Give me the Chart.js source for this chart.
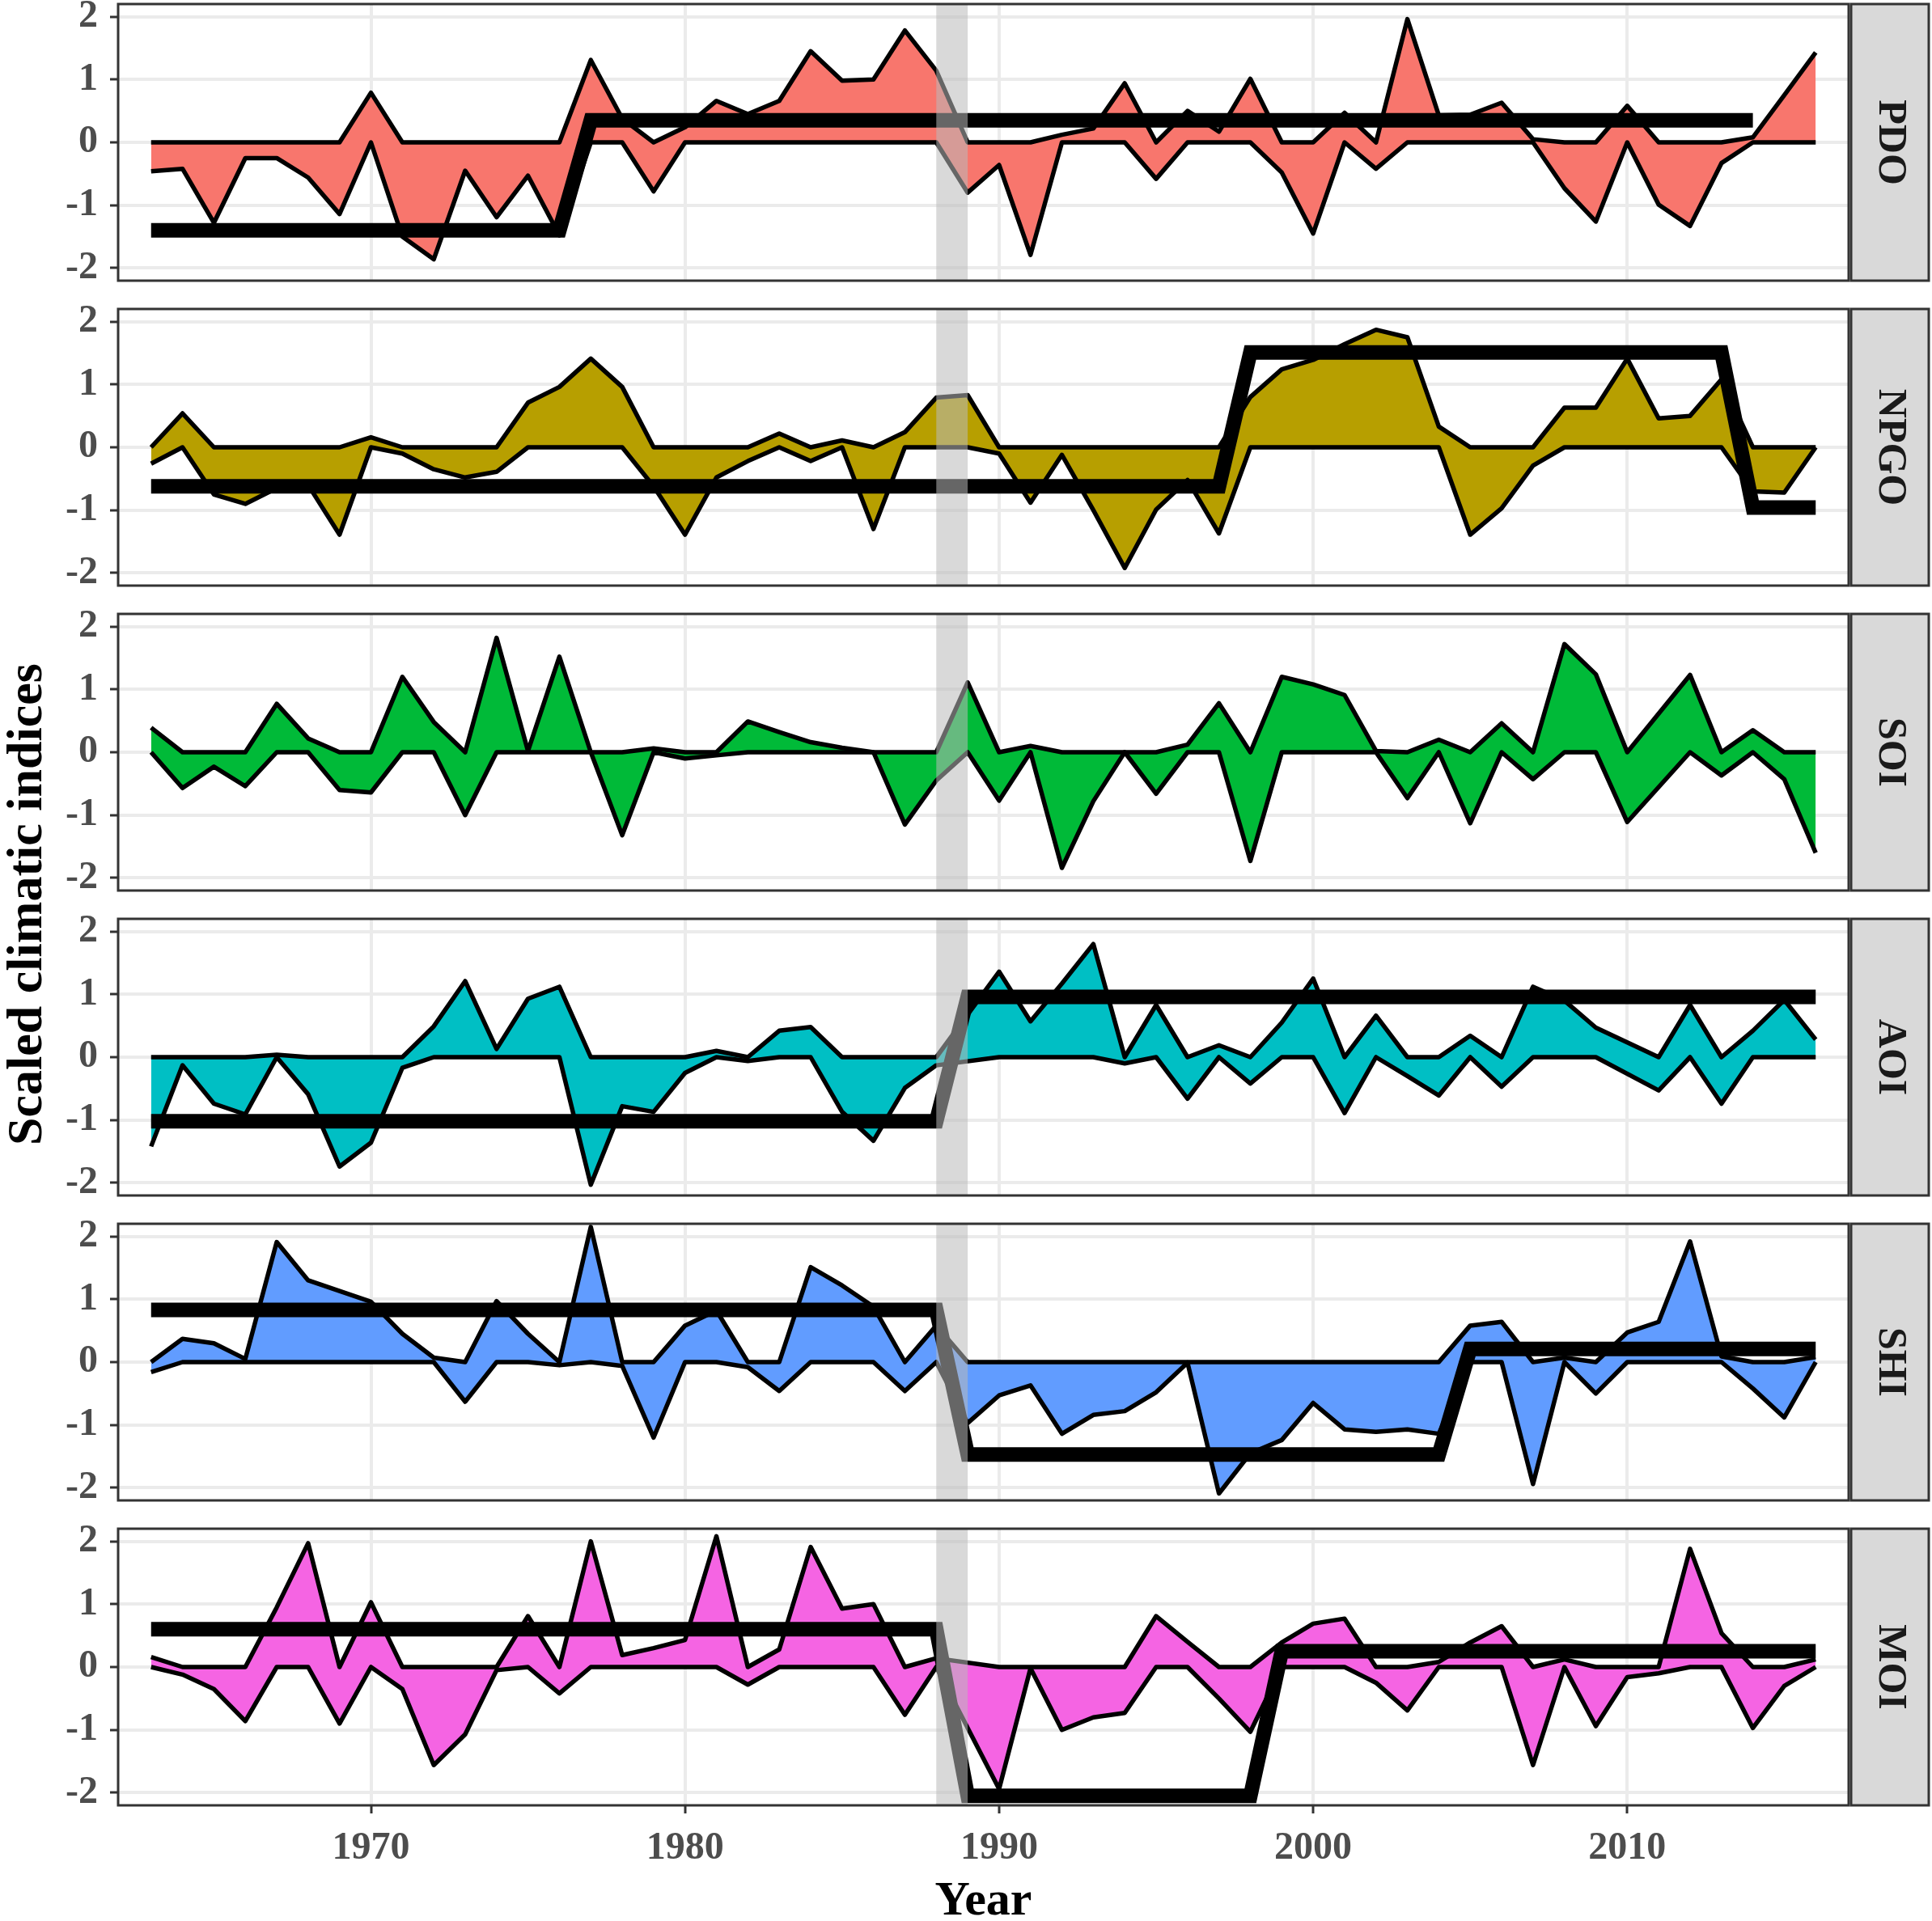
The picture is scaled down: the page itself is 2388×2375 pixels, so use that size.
<!DOCTYPE html>
<html>
<head>
<meta charset="utf-8">
<title>Scaled climatic indices</title>
<script src="https://cdn.jsdelivr.net/npm/chart.js@4.4.1/dist/chart.umd.min.js"></script>
<style>
  html, body { margin: 0; padding: 0; background: #fff; overflow: hidden; }
  #wrap { position: relative; width: 2388px; height: 2375px; }
  #wrap canvas { position: absolute; left: 0; }
  #yTitle {
    position: absolute; left: 30px; top: 1118px;
    transform: translate(-50%, -50%) rotate(-90deg);
    font: bold 62px "Liberation Serif", serif; color: #000; white-space: nowrap;
  }
</style>
</head>
<body>
<div id="wrap">
  <div id="yTitle">Scaled climatic indices</div>
</div>
<script>
// Years on the x axis
const years = [
  1963, 1964, 1965, 1966, 1967, 1968, 1969, 1970, 1971, 1972,
  1973, 1974, 1975, 1976, 1977, 1978, 1979, 1980, 1981, 1982,
  1983, 1984, 1985, 1986, 1987, 1988, 1989, 1990, 1991, 1992,
  1993, 1994, 1995, 1996, 1997, 1998, 1999, 2000, 2001, 2002,
  2003, 2004, 2005, 2006, 2007, 2008, 2009, 2010, 2011, 2012,
  2013, 2014, 2015, 2016
];

// Scaled index values (null = no point)
const pdo = [
  -0.46, -0.42, -1.28, -0.25, -0.25, -0.56, -1.14, 0.79, -1.50, -1.86,
  -0.45, -1.19, -0.53, -1.48, 1.31, 0.38, -0.78, 0.24, 0.66, 0.45,
  0.66, 1.45, 0.98, 1.00, 1.78, 1.14, -0.80, -0.36, -1.79, 0.12,
  0.22, 0.94, -0.58, 0.50, 0.17, 1.01, -0.48, -1.45, 0.47, -0.42,
  1.96, 0.43, 0.44, 0.63, 0.05, -0.73, -1.26, 0.58, -0.99, -1.33,
  -0.33, 0.08, 0.75, 1.43
];
const npgo = [
  -0.26, 0.54, -0.75, -0.90, -0.65, -0.60, -1.39, 0.16, -0.10, -0.35,
  -0.48, -0.39, 0.71, 0.96, 1.41, 0.96, -0.62, -1.39, -0.48, -0.22,
  0.22, -0.22, 0.11, -1.30, 0.24, 0.79, 0.83, -0.10, -0.88, -0.12,
  -1.00, -1.92, -0.99, -0.52, -1.37, 0.80, 1.24, 1.39, 1.64, 1.87,
  1.75, 0.33, -1.39, -0.97, -0.29, 0.63, 0.63, 1.41, 0.46, 0.50,
  1.08, -0.70, -0.72, 0.00
];
const soi = [
  0.39, -0.57, -0.23, -0.54, 0.77, 0.22, -0.60, -0.64, 1.20, 0.48,
  -1.00, 1.82, 0.02, 1.52, 0.00, -1.32, 0.06, -0.10, -0.05, 0.49,
  0.32, 0.16, 0.07, 0.00, -1.15, -0.45, 1.11, -0.77, 0.10, -1.84,
  -0.78, 0.00, -0.66, 0.12, 0.78, -1.73, 1.20, 1.08, 0.91, 0.02,
  -0.73, 0.20, -1.13, 0.46, -0.43, 1.72, 1.24, -1.11, null, 1.23,
  -0.37, 0.35, -0.43, -1.60
];
const aoi = [
  -1.42, -0.13, -0.74, -0.91, 0.04, -0.59, -1.74, -1.36, -0.17, 0.49,
  1.21, 0.13, 0.93, 1.12, -2.03, -0.78, -0.87, -0.25, 0.10, -0.06,
  0.42, 0.48, -0.87, -1.33, -0.49, -0.13, null, 1.36, 0.57, 1.17,
  1.80, -0.10, 0.83, -0.66, 0.19, -0.42, 0.55, 1.25, -0.89, 0.66,
  -0.30, -0.61, 0.34, -0.47, 1.12, 0.90, 0.47, null, -0.53, 0.83,
  -0.74, 0.42, 0.91, 0.28
];
const shi = [
  -0.16, 0.37, 0.30, 0.05, 1.91, 1.30, 1.13, 0.96, 0.45, 0.07,
  -0.63, 0.97, 0.45, -0.05, 2.15, -0.06, -1.20, 0.58, 0.82, -0.08,
  -0.46, 1.51, 1.22, 0.88, -0.46, 0.58, -0.97, -0.53, -0.37, -1.14,
  -0.84, -0.78, -0.48, -0.01, -2.09, -1.45, -1.24, -0.65, -1.07, -1.11,
  -1.07, -1.14, 0.58, 0.64, -1.94, 0.07, -0.50, 0.47, 0.64, 1.92,
  0.09, -0.42, -0.88, 0.08
];
const moi = [
  0.16, -0.12, -0.35, -0.86, 0.95, 1.97, -0.90, 1.03, -0.35, -1.56,
  -1.07, -0.05, 0.81, -0.42, 2.00, 0.19, 0.30, 0.43, 2.08, -0.28,
  0.28, 1.91, 0.93, 1.00, -0.76, 0.14, null, -1.94, -0.02, -1.00,
  -0.80, -0.73, 0.81, 0.40, -0.50, -1.03, 0.39, 0.69, 0.77, -0.25,
  -0.69, 0.08, 0.39, 0.65, -1.56, 0.12, -0.94, -0.16, -0.10, 1.88,
  0.54, -0.97, -0.30, 0.12
];

// Regime means: [first year, last year, mean]
const pdoShifts = [[1963, 1976, -1.40], [1977, 2014, 0.35]];
const npgoShifts = [[1963, 1997, -0.62], [1998, 2013, 1.51], [2014, 2016, -0.96]];
const soiShifts = [];
const aoiShifts = [[1963, 1988, -1.02], [1989, 2016, 0.96]];
const shiShifts = [[1963, 1988, 0.83], [1989, 2004, -1.47], [2005, 2016, 0.21]];
const moiShifts = [[1963, 1988, 0.60], [1989, 1998, -2.05], [1999, 2016, 0.25]];

const panelNames = ['PDO', 'NPGO', 'SOI', 'AOI', 'SHI', 'MOI'];
const panelColors = ['#F8766D', '#B79F00', '#00BA38', '#00BFC4', '#619CFF', '#F564E3'];
const xTicks = [1970, 1980, 1990, 2000, 2010];
const yTicks = [-2, -1, 0, 1, 2];
const bandYears = [1988, 1989];

// Layout (pixels)
const W = 2388, H = 2375;
const PLOT_LEFT = 146, PLOT_RIGHT = 2285;
const PANEL_TOP = [5, 382, 759, 1136, 1513, 1890];
const PANEL_H = 342;
const PAD = 20;
const AXIS_H = H - (PANEL_TOP[5] + PANEL_H);
const GRID = '#ebebeb';
const SERIF = '"Liberation Serif", "Times New Roman", serif';

const panels = [
  { values: pdo, shifts: pdoShifts },
  { values: npgo, shifts: npgoShifts },
  { values: soi, shifts: soiShifts },
  { values: aoi, shifts: aoiShifts },
  { values: shi, shifts: shiShifts },
  { values: moi, shifts: moiShifts }
];

// Step series from the regime table
function shiftSeries(segments) {
  return years.map(y => {
    const seg = segments.find(s => y >= s[0] && y <= s[1]);
    return seg ? seg[2] : null;
  });
}

function toPoints(arr) {
  return years.map((y, k) => ({ x: y, y: arr[k] }));
}

// Grey band, panel frame and strip label
const panelDecor = {
  id: 'panelDecor',
  afterDatasetsDraw(chart, args, opts) {
    const { ctx, chartArea: a, scales: { x } } = chart;
    ctx.save();
    const x1 = x.getPixelForValue(bandYears[0]);
    const x2 = x.getPixelForValue(bandYears[1]);
    ctx.fillStyle = 'rgba(185,185,185,0.55)';
    ctx.fillRect(x1, a.top, x2 - x1, a.bottom - a.top);

    ctx.strokeStyle = '#333333';
    ctx.lineWidth = 3;
    ctx.strokeRect(a.left, a.top, a.right - a.left, a.bottom - a.top);

    const sx = a.right + 3, sw = 96;
    ctx.fillStyle = '#d9d9d9';
    ctx.fillRect(sx, a.top, sw, a.bottom - a.top);
    ctx.strokeRect(sx, a.top, sw, a.bottom - a.top);

    ctx.translate(sx + sw / 2, (a.top + a.bottom) / 2);
    ctx.rotate(Math.PI / 2);
    ctx.fillStyle = '#1a1a1a';
    ctx.font = 'bold 50px ' + SERIF;
    ctx.textAlign = 'center';
    ctx.textBaseline = 'middle';
    ctx.fillText(opts.label, 0, 0);
    ctx.restore();
  }
};

function panelOptions(i, isLast) {
  return {
    responsive: false,
    animation: false,
    devicePixelRatio: 1,
    layout: { padding: { top: PAD, bottom: isLast ? 0 : PAD, left: 0, right: W - PLOT_RIGHT } },
    plugins: {
      legend: { display: false },
      tooltip: { enabled: false },
      panelDecor: { label: panelNames[i] }
    },
    scales: {
      x: {
        type: 'linear',
        min: 1961.95,
        max: 2017.05,
        afterBuildTicks: s => { s.ticks = xTicks.map(v => ({ value: v })); },
        afterFit: s => {
          s.height = isLast ? AXIS_H : 0;
          s.paddingLeft = 0; s.paddingRight = 0;
        },
        border: { display: false },
        grid: { color: GRID, lineWidth: 4, drawTicks: isLast, tickLength: 10, tickColor: '#333333', tickWidth: 3 },
        ticks: {
          display: isLast, autoSkip: false, maxRotation: 0, padding: 15,
          color: '#4d4d4d', font: { family: SERIF, weight: 'bold', size: 48 },
          callback: v => String(v)
        },
        title: {
          display: isLast, text: 'Year', color: '#000000',
          padding: { top: 0, bottom: 0 },
          font: { family: SERIF, weight: 'bold', size: 60, lineHeight: 0.8 }
        }
      },
      y: {
        min: -2.2,
        max: 2.2,
        afterBuildTicks: s => { s.ticks = yTicks.map(v => ({ value: v })); },
        afterFit: s => {
          s.width = PLOT_LEFT;
          s.paddingTop = 0; s.paddingBottom = 0;
        },
        border: { display: false },
        grid: { color: GRID, lineWidth: 4, tickLength: 10, tickColor: '#333333', tickWidth: 3 },
        ticks: {
          padding: 15, color: '#4d4d4d',
          font: { family: SERIF, weight: 'bold', size: 48 },
          callback: v => String(v)
        }
      }
    }
  };
}

const wrap = document.getElementById('wrap');
const charts = {};

panels.forEach((p, i) => {
  const isLast = i === panels.length - 1;
  const top = PANEL_TOP[i] - PAD;
  const height = isLast ? H - top : PANEL_H + 2 * PAD;
  const canvas = document.createElement('canvas');
  canvas.width = W;
  canvas.height = height;
  canvas.style.top = top + 'px';
  canvas.style.width = W + 'px';
  canvas.style.height = height + 'px';
  wrap.appendChild(canvas);

  const upper = p.values.map(v => v === null ? null : Math.max(v, 0));
  const lower = p.values.map(v => v === null ? null : Math.min(v, 0));

  charts[panelNames[i]] = new Chart(canvas, {
    type: 'line',
    data: {
      datasets: [
        {
          data: toPoints(upper), borderColor: '#000000', borderWidth: 5.5,
          borderJoinStyle: 'round', backgroundColor: panelColors[i], fill: '+1',
          pointRadius: 0, spanGaps: true, tension: 0, order: 3
        },
        {
          data: toPoints(lower), borderColor: '#000000', borderWidth: 5.5,
          borderJoinStyle: 'round', fill: false,
          pointRadius: 0, spanGaps: true, tension: 0, order: 2
        },
        {
          data: toPoints(shiftSeries(p.shifts)), borderColor: '#000000', borderWidth: 18,
          fill: false, pointRadius: 0, spanGaps: false, tension: 0, order: 1
        }
      ]
    },
    options: panelOptions(i, isLast),
    plugins: [panelDecor]
  });
});
</script>
</body>
</html>
